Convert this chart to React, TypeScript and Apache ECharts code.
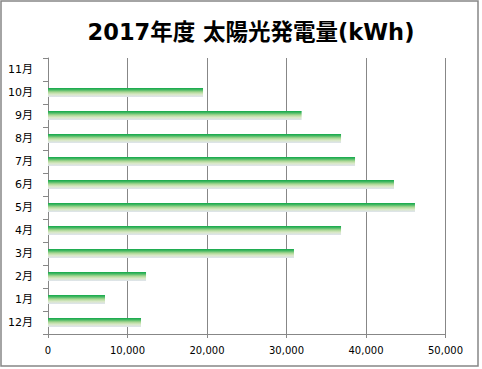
import React, { useEffect, useRef } from "react";
import * as echarts from "echarts";

const months = ["12月", "1月", "2月", "3月", "4月", "5月", "6月", "7月", "8月", "9月", "10月", "11月"];
const generation: (number | null)[] = [11700, 7170, 12330, 30940, 36860, 46160, 43520, 38620, 36860, 31900, 19500, null];
const titleText = "2017年度 太陽光発電量(kWh)";

export default function App() {
  const ref = useRef<HTMLDivElement>(null);
  useEffect(() => {
    document.body.style.margin = "0";
    const chart = echarts.init(ref.current!, null, { renderer: "svg" });
    const axisGrey = "#878787";
    chart.setOption({
      animation: false,
      backgroundColor: "#ffffff",
      title: {
        text: titleText,
        left: 246,
        top: 16,
        textAlign: "center",
        textStyle: {
          fontFamily: "'DejaVu Sans', 'Noto Sans CJK JP', sans-serif",
          fontSize: 22.5,
          fontWeight: "bold",
          color: "#000000",
        },
      },
      graphic: [
        {
          type: "rect",
          shape: { x: 1, y: 1, width: 477, height: 365 },
          style: { fill: "none", stroke: "#868686", lineWidth: 1.5 },
          silent: true,
        },
      ],
      grid: { left: 48, right: 36.5, top: 58, bottom: 35, containLabel: false },
      xAxis: {
        type: "value",
        min: 0,
        max: 50000,
        interval: 10000,
        axisLine: { show: true, lineStyle: { color: axisGrey, width: 1 } },
        axisTick: { show: true, length: 4, lineStyle: { color: axisGrey } },
        splitLine: { show: true, lineStyle: { color: axisGrey, width: 1 } },
        axisLabel: {
          margin: 11,
          color: "#000000",
          fontFamily: "'DejaVu Sans', sans-serif",
          fontSize: 10,
          formatter: (v: number) => v.toLocaleString("en-US"),
        },
      },
      yAxis: {
        type: "category",
        data: months,
        axisLine: { show: true, lineStyle: { color: axisGrey, width: 1 } },
        axisTick: { show: true, length: 5, lineStyle: { color: axisGrey } },
        splitLine: { show: false },
        axisLabel: {
          margin: 15,
          color: "#000000",
          fontFamily: "'DejaVu Sans', 'Noto Sans CJK JP', sans-serif",
          fontSize: 11,
        },
      },
      series: [
        {
          type: "bar",
          data: generation,
          barWidth: 9,
          itemStyle: {
            color: new echarts.graphic.LinearGradient(0, 0, 0, 1, [
              { offset: 0, color: "#12a84a" },
              { offset: 0.2, color: "#45b863" },
              { offset: 0.45, color: "#a9d793" },
              { offset: 0.7, color: "#d9e8c6" },
              { offset: 1, color: "#dee3ee" },
            ]),
          },
        },
      ],
    });
    return () => chart.dispose();
  }, []);
  return <div ref={ref} style={{ position: "absolute", left: 0, top: 0, width: 482, height: 369 }} />;
}
